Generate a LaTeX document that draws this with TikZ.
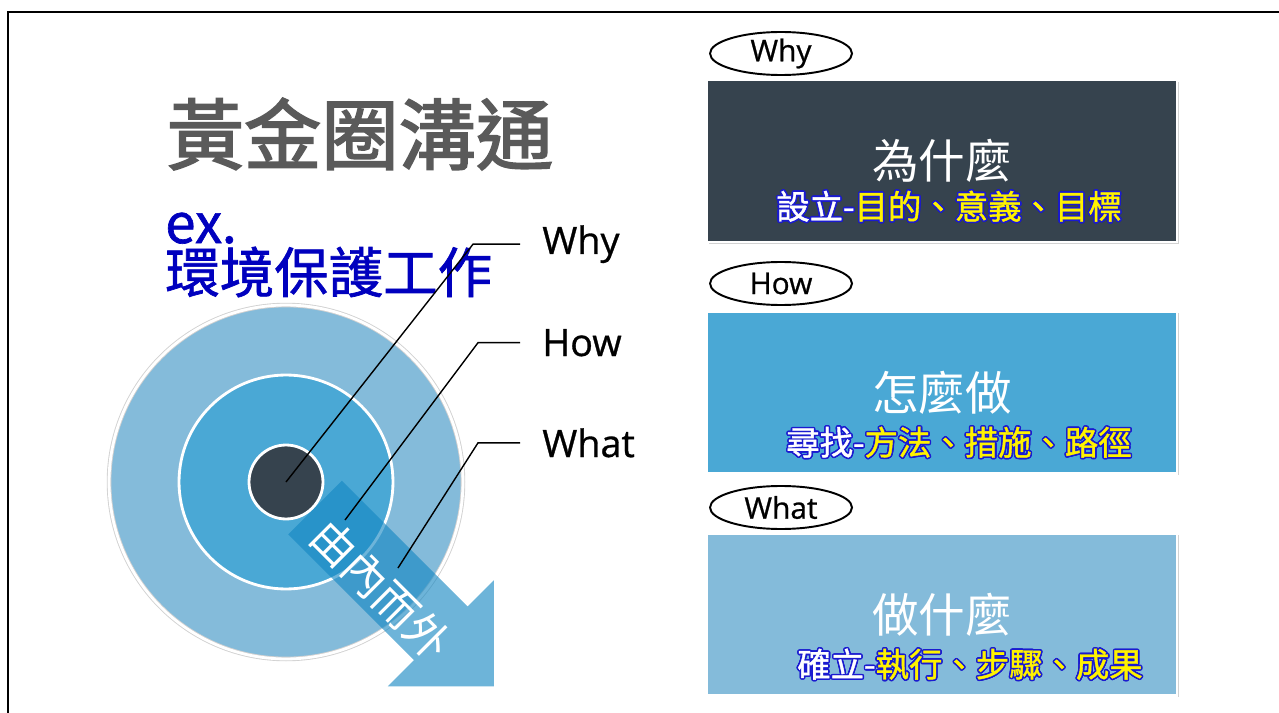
\documentclass[tikz,border=0pt]{standalone}
\usepackage{fontspec}
\usepackage{xcolor}
\usepackage[copies]{contour}
\usetikzlibrary{shapes.geometric,shadows}
\newfontfamily\cjk{Noto Sans CJK TC}
\newfontfamily\cjkheavy{Noto Sans CJK TC}[FakeBold=2.2]
\newfontfamily\cjkmid{Noto Sans CJK TC}[FakeBold=1.2]
\newfontfamily\lab{Open Sans}[FakeBold=0.8]
\definecolor{slate}{HTML}{36434E}
\definecolor{midblue}{HTML}{4AA8D5}
\definecolor{paleblue}{HTML}{84BBDA}
\definecolor{arrowblue}{RGB}{20,135,195}
\definecolor{titlegray}{HTML}{5A5A5A}
\definecolor{exblue}{HTML}{0000BE}
\definecolor{rimblue}{HTML}{1A1AD0}
\contourlength{0.9pt}
\contournumber{12}
\newcommand{\rim}[2]{{\color{white}\contour{rimblue}{#1}}{\color{yellow}\contour{rimblue}{#2}}}

\begin{document}
\begin{tikzpicture}[x=0.02cm,y=-0.02cm]
    \useasboundingbox[fill=white] (0,0) rectangle (1279,713);
    \draw[line width=1.3pt] (8,713) -- (8,12) -- (1279,12);

    \node[text=titlegray,font=\cjkheavy\fontsize{44}{48}\selectfont] (title) at (360,134) {黃金圈溝通};
    \begin{scope}[every node/.style={text=exblue,inner sep=0pt,font=\cjkmid\fontsize{31}{34}\selectfont}]
      \node[anchor=base west] (ex) at (165,243) {ex.};
      \node[anchor=west] (topic) at (165,272) {環境保護工作};
    \end{scope}

    \begin{scope}[every node/.style={circle,draw=white,line width=1.6pt,inner sep=0pt}]
      \node[fill=paleblue,minimum size=7.08cm,draw=black!18,line width=0.5pt,double=white,
        double distance=1.6pt] (outer) at (286,482) {};
      \node[fill=midblue,minimum size=4.28cm] (middle) at (286,482) {};
      \node[fill=slate,minimum size=1.48cm] (core) at (286,482) {};
    \end{scope}

    \begin{scope}[shift={(315,507.5)},rotate=-45]
      \fill[arrowblue,fill opacity=0.62] (0,-38) -- (178,-38) -- (178,-75) -- (253,0)
        -- (178,75) -- (178,38) -- (0,38) -- cycle;
    \end{scope}
    \node[rotate=-45,text=white,font=\cjk\fontsize{25}{28}\selectfont] (dir) at (381,590) {由內而外};

    \begin{scope}[every node/.style={anchor=base west,inner sep=0pt,font=\lab\fontsize{21.5}{24}\selectfont}]
      \node (why) at (542,254) {Why};
      \node (how) at (542,356) {How};
      \node (what) at (542,457) {What};
    \end{scope}
    \coordinate (howpt) at (345,520);
    \coordinate (whatpt) at (398,568);

    \begin{scope}[every path/.style={draw,line width=0.8pt}]
      \path (core.center) -- ([xshift=-1.38cm]why.west) -- ([xshift=-0.44cm]why.west);
      \path (howpt) -- ([xshift=-1.28cm]how.west) -- ([xshift=-0.44cm]how.west);
      \path (whatpt) -- ([xshift=-1.28cm]what.west) -- ([xshift=-0.44cm]what.west);
    \end{scope}

    \begin{scope}[every node/.style={ellipse,draw,line width=1.1pt,minimum width=2.84cm,
        minimum height=0.86cm,inner sep=0pt,font=\lab\fontsize{17}{20}\selectfont}]
      \node (whytag) at (781,53.5) {Why};
      \node (howtag) at (781,283.5) {How};
      \node (whattag) at (781,507.5) {What};
    \end{scope}

    \begin{scope}[every node/.style={rectangle,draw=white,line width=1.6pt,minimum width=9.4cm,
        minimum height=3.24cm,text=white,font=\cjk\fontsize{26.5}{30}\selectfont,
        drop shadow={shadow xshift=0.9pt,shadow yshift=-0.9pt,opacity=0.35}}]
      \node[fill=slate] (whybox) at (942,161) {為什麼};
      \node[fill=midblue] (howbox) at (942,392.5) {怎麼做};
      \node[fill=paleblue] (whatbox) at (942,614.5) {做什麼};
    \end{scope}

    \begin{scope}[every node/.style={inner sep=0pt,font=\cjkmid\fontsize{19}{22}\selectfont}]
      \node (whynote) at (949,207) {\rim{設立-}{目的、意義、目標}};
      \node (hownote) at (959,443) {\rim{尋找-}{方法、措施、路徑}};
      \node (whatnote) at (970,665) {\rim{確立-}{執行、步驟、成果}};
    \end{scope}
\end{tikzpicture}
\end{document}
